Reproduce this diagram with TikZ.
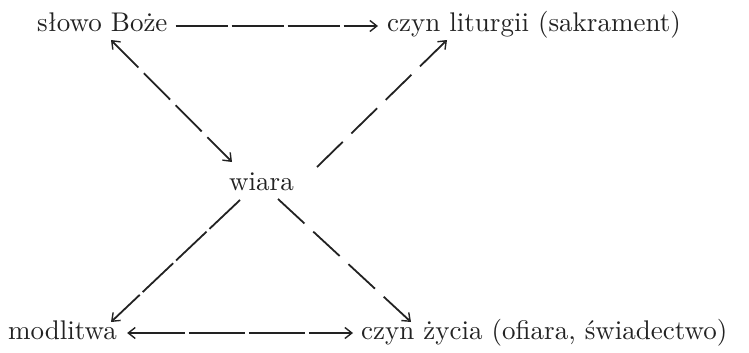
\documentclass[tikz,border=0pt]{standalone}
\usepackage{fontspec}
\setmainfont{lmroman10-regular.otf}
\usetikzlibrary{arrows.meta}
\definecolor{ink}{HTML}{222222}
\tikzset{
  lbl/.style={inner sep=0pt, anchor=base west, text=ink, font=\fontsize{27}{32}\selectfont},
  barb/.tip={Straight Barb[length=7pt,width=11pt,line width=1.4pt]},
  harrow/.style={draw=ink, line width=1.2pt, dash pattern=on 52pt off 4pt},
  darrow/.style={draw=ink, line width=1.8pt},
}
\begin{document}
\begin{tikzpicture}[x=1pt,y=-1pt]
\useasboundingbox (0,0) rectangle (749,353);
\node[lbl] (slowo) at (37,32) {słowo Boże};
\node[lbl] (lit) at (387,32) {czyn liturgii (sakrament)};
\node[lbl] (wiara) at (229,190) {wiara};
\node[lbl] (modl) at (8,339) {modlitwa};
\node[lbl] (zycie) at (361,339) {czyn życia (ofiara, świadectwo)};
% horizontal arrows
\draw[harrow, -{barb}] ([shift={(8,-6)}]slowo.base east) -- ([shift={(-9,-6)}]lit.base west);
\draw[harrow, {barb}-{barb}, dash pattern=on 56pt off 4pt] ([shift={(10,-6)}]modl.base east) -- ([shift={(-8,-6)}]zycie.base west);
% diagonal arrows
\draw[darrow, {barb}-{barb}, dash pattern=on 37pt off 8pt] ([shift={(74,8)}]slowo.base west) -- ([shift={(3,-28)}]wiara.base west);
\draw[darrow, -{barb}, dash pattern=on 36pt off 12pt] ([shift={(88,-23)}]wiara.base west) -- ([shift={(60,8)}]lit.base west);
\draw[darrow, -{barb}, dash pattern=on 42pt off 4pt] ([shift={(11,10)}]wiara.base west) -- ([shift={(103,-17)}]modl.base west);
\draw[darrow, -{barb}, dash pattern=on 36pt off 12pt] ([shift={(49,9)}]wiara.base west) -- ([shift={(50,-17)}]zycie.base west);
\end{tikzpicture}
\end{document}
